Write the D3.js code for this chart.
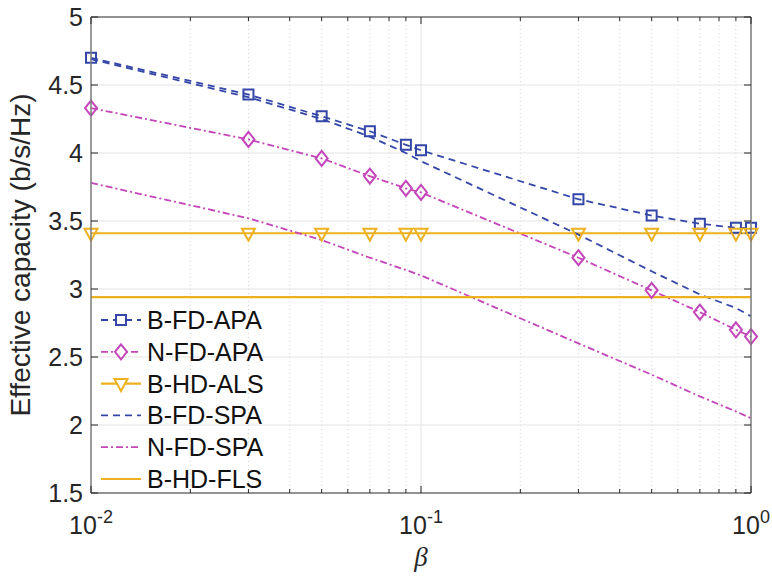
<!DOCTYPE html>
<html>
<head>
<meta charset="utf-8">
<script src="https://cdn.jsdelivr.net/npm/d3@7/dist/d3.min.js"></script>
<style>
  html, body { margin: 0; padding: 0; background: #fff; }
  svg { display: block; font-family: "Liberation Sans", Arial, Helvetica, sans-serif; }
</style>
</head>
<body>
<svg id="chart" width="772" height="577"></svg>
<script>
// Power-split factor values shared by all curves
const beta = [0.01, 0.03, 0.05, 0.07, 0.09, 0.1, 0.3, 0.5, 0.7, 0.9, 1.0];

// Effective capacity (b/s/Hz) for each scheme
const bFdApa = [4.70, 4.43, 4.27, 4.16, 4.06, 4.02, 3.66, 3.54, 3.48, 3.45, 3.45];
const nFdApa = [4.33, 4.10, 3.96, 3.83, 3.74, 3.71, 3.23, 2.99, 2.83, 2.70, 2.65];
const bHdAls = [3.41, 3.41, 3.41, 3.41, 3.41, 3.41, 3.41, 3.41, 3.41, 3.41, 3.41];
const bFdSpa = [4.69, 4.41, 4.25, 4.12, 4.00, 3.94, 3.40, 3.13, 2.96, 2.86, 2.80];
const nFdSpa = [3.78, 3.52, 3.36, 3.23, 3.14, 3.10, 2.60, 2.37, 2.21, 2.10, 2.05];
const bHdFls = [2.94, 2.94, 2.94, 2.94, 2.94, 2.94, 2.94, 2.94, 2.94, 2.94, 2.94];

const yTicks = [1.5, 2, 2.5, 3, 3.5, 4, 4.5, 5];
const xTicks = [0.01, 0.1, 1];
const xTickExp = ["-2", "-1", "0"];

const blue = "#3446a8", magenta = "#c445b9", orange = "#edb120";

const series = [
  { name: "B-FD-APA", values: bFdApa, color: blue,    dash: "7,5",     width: 1.8, marker: "square" },
  { name: "N-FD-APA", values: nFdApa, color: magenta, dash: "7,3,2,3", width: 1.8, marker: "diamond" },
  { name: "B-HD-ALS", values: bHdAls, color: orange,  dash: null,      width: 2.2, marker: "triangle" },
  { name: "B-FD-SPA", values: bFdSpa, color: blue,    dash: "7,5",     width: 1.8, marker: null },
  { name: "N-FD-SPA", values: nFdSpa, color: magenta, dash: "7,3,2,3", width: 1.8, marker: null },
  { name: "B-HD-FLS", values: bHdFls, color: orange,  dash: null,      width: 2.2, marker: null }
];

const svg = d3.select("#chart");
const m = { left: 91, right: 751, top: 17, bottom: 493 };

const x = d3.scaleLog().domain([0.01, 1]).range([m.left, m.right]);
const y = d3.scaleLinear().domain([1.5, 5]).range([m.bottom, m.top]);

// minor x grid (dotted)
const minor = [];
[0.01, 0.1].forEach(d => { for (let k = 2; k <= 9; k++) minor.push(d * k); });
svg.append("g").selectAll("line").data(minor).join("line")
  .attr("x1", d => x(d)).attr("x2", d => x(d))
  .attr("y1", m.top).attr("y2", m.bottom)
  .attr("stroke", "#d4d4d4").attr("stroke-width", 1).attr("stroke-dasharray", "1,3");

// major grid
const grid = svg.append("g").attr("stroke", "#e3e3e3").attr("stroke-width", 1);
grid.selectAll("line.gy").data(yTicks.slice(1, -1)).join("line").attr("class", "gy")
  .attr("x1", m.left).attr("x2", m.right).attr("y1", d => y(d)).attr("y2", d => y(d));
grid.selectAll("line.gx").data([0.1]).join("line").attr("class", "gx")
  .attr("x1", d => x(d)).attr("x2", d => x(d)).attr("y1", m.top).attr("y2", m.bottom);

// curves
const line = d3.line().x((d, i) => x(beta[i])).y(d => y(d));
const curves = svg.append("g");
series.forEach(s => {
  curves.append("path").datum(s.values)
    .attr("d", line).attr("fill", "none")
    .attr("stroke", s.color).attr("stroke-width", s.width)
    .attr("stroke-dasharray", s.dash);
});

function markerPath(type) {
  if (type === "square") return "M-5,-5H5V5H-5Z";
  if (type === "diamond") return "M0,-7.5L6,0L0,7.5L-6,0Z";
  if (type === "triangle") return "M-6.5,-4.5H6.5L0,7.5Z";
  return "";
}

series.filter(s => s.marker).forEach(s => {
  curves.append("g").selectAll("path").data(s.values).join("path")
    .attr("transform", (d, i) => `translate(${x(beta[i])},${y(d)})`)
    .attr("d", markerPath(s.marker))
    .attr("fill", "none").attr("stroke", s.color).attr("stroke-width", 2);
});

// axes box
const box = svg.append("g");
box.append("line").attr("x1", m.left).attr("x2", m.right).attr("y1", m.top).attr("y2", m.top)
  .attr("stroke", "#262626").attr("stroke-width", 1.2);
box.append("line").attr("x1", m.left).attr("x2", m.right).attr("y1", m.bottom).attr("y2", m.bottom)
  .attr("stroke", "#262626").attr("stroke-width", 1.2);
box.append("line").attr("x1", m.left).attr("x2", m.left).attr("y1", m.top).attr("y2", m.bottom)
  .attr("stroke", "#7a7a7a").attr("stroke-width", 1.5);
box.append("line").attr("x1", m.right).attr("x2", m.right).attr("y1", m.top).attr("y2", m.bottom)
  .attr("stroke", "#7a7a7a").attr("stroke-width", 1.5);

// tick marks (inward)
const tk = svg.append("g").attr("stroke", "#262626").attr("stroke-width", 1);
const allX = xTicks.concat(minor);
allX.forEach(d => {
  const len = xTicks.includes(d) ? 7 : 4;
  tk.append("line").attr("x1", x(d)).attr("x2", x(d)).attr("y1", m.bottom).attr("y2", m.bottom - len);
  tk.append("line").attr("x1", x(d)).attr("x2", x(d)).attr("y1", m.top).attr("y2", m.top + len);
});
yTicks.forEach(d => {
  tk.append("line").attr("x1", m.left).attr("x2", m.left + 7).attr("y1", y(d)).attr("y2", y(d));
  tk.append("line").attr("x1", m.right).attr("x2", m.right - 7).attr("y1", y(d)).attr("y2", y(d));
});

// y tick labels
svg.append("g").selectAll("text").data(yTicks).join("text")
  .attr("x", m.left - 8).attr("y", d => y(d)).attr("dy", "0.36em")
  .attr("text-anchor", "end").attr("font-size", 25).attr("fill", "#262626")
  .text(d => d3.format("")(d));

// x tick labels with exponent
const xl = svg.append("g").selectAll("text").data(xTicks).join("text")
  .attr("x", d => x(d)).attr("y", 534)
  .attr("text-anchor", "middle").attr("font-size", 25).attr("fill", "#262626");
xl.append("tspan").text("10");
xl.append("tspan").attr("dy", -11).attr("font-size", 18).text((d, i) => xTickExp[i]);

// axis titles
svg.append("text").attr("x", (m.left + m.right) / 2).attr("y", 566)
  .attr("text-anchor", "middle").attr("font-size", 27).attr("font-style", "italic")
  .attr("font-family", "'Liberation Serif', 'Times New Roman', serif").attr("fill", "#262626")
  .text("β");
svg.append("text").attr("transform", `translate(30,${(m.top + m.bottom) / 2}) rotate(-90)`)
  .attr("text-anchor", "middle").attr("font-size", 28).attr("fill", "#262626")
  .text("Effective capacity (b/s/Hz)");

// legend
const lg = svg.append("g").attr("transform", "translate(101,320)");
series.forEach((s, i) => {
  const row = lg.append("g").attr("transform", `translate(0,${i * 31.8})`);
  row.append("line").attr("x1", 0).attr("x2", 40).attr("y1", 0).attr("y2", 0)
    .attr("stroke", s.color).attr("stroke-width", s.width)
    .attr("stroke-dasharray", s.dash);
  if (s.marker) {
    row.append("path").attr("transform", "translate(20,0)").attr("d", markerPath(s.marker))
      .attr("fill", "#fff").attr("stroke", s.color).attr("stroke-width", 2);
  }
  row.append("text").attr("x", 46).attr("y", 0).attr("dy", "0.36em")
    .attr("font-size", 25).attr("fill", "#111").text(s.name);
});
</script>
</body>
</html>
